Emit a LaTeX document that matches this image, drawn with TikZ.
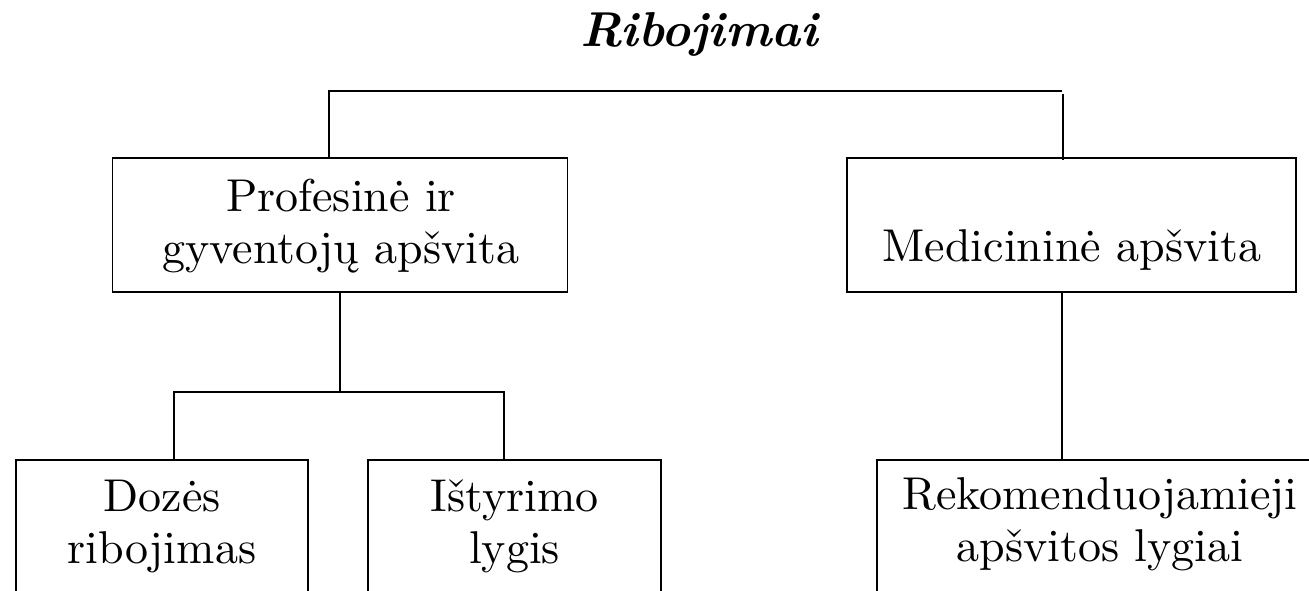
\documentclass[tikz,border=0pt]{standalone}
\usepackage{fontspec}
\setmainfont{lmroman10}[Extension=.otf,UprightFont=*-regular,BoldFont=*-bold,ItalicFont=*-italic,BoldItalicFont=*-bolditalic]
\usetikzlibrary{calc}
\begin{document}
\begin{tikzpicture}[x=0.5pt,y=-0.5pt,line width=0.9pt,
  box/.style={draw,rectangle,inner sep=0pt},
  txt/.style={font=\fontsize{23}{26}\selectfont,align=center,anchor=base,inner sep=0pt,text width=220pt}]
\useasboundingbox (0,0) rectangle (1309,590);
\clip (0,0) rectangle (1309,590);
\node[font=\fontsize{24.5}{28}\selectfont\bfseries\itshape,anchor=base,inner sep=0pt] (title) at (699,46) {Ribojimai};
% boxes
\node[box,minimum width=227.5pt,minimum height=67pt] (b1) at (340,225) {};
\node[box,minimum width=224.5pt,minimum height=67pt] (b2) at (1071.5,225) {};
\node[box,minimum width=146pt,minimum height=80pt] (b3) at (162,540) {};
\node[box,minimum width=146.5pt,minimum height=80pt] (b4) at (514.5,540) {};
\node[box,minimum width=224pt,minimum height=80pt] (b5) at (1101,540) {};
% texts
\node[txt] (t1) at (341,211) {Profesinė ir\\gyventojų apšvita};
\node[txt] (t2) at (1072,261) {Medicininė apšvita};
\node[txt] (t3) at (162,511) {Dozės\\ribojimas};
\node[txt] (t4) at (514.5,511) {Ištyrimo\\lygis};
\node[txt] (t5) at (1100,509) {Rekomenduojamieji\\apšvitos lygiai};
% connectors
\coordinate (tl) at (329,91);
\coordinate (tr) at (1062,91);
\draw (b1.north -| tl) -- (tl) -- (tr);
\draw ($(tr)+(1,3)$) -- ($(b2.north -| tr)+(1,3)$);
\coordinate (ml) at (174,392);
\coordinate (mr) at (504,392);
\draw (b1.south) -- (b1.south |- ml);
\draw (b3.north -| ml) -- (ml) -- (mr) -- (b4.north -| mr);
\draw (b2.south -| tr) -- (b5.north -| tr);
\end{tikzpicture}
\end{document}
